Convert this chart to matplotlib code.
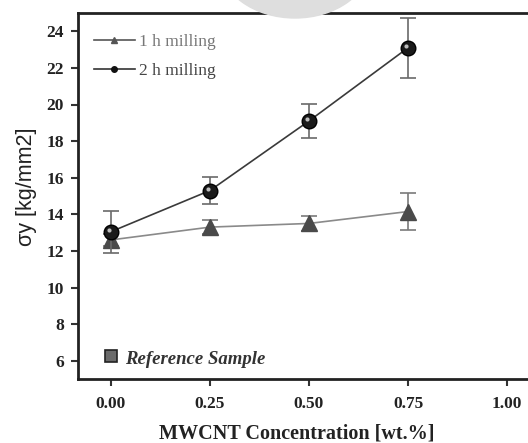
import numpy as np
import matplotlib
matplotlib.use('Agg')
import matplotlib.pyplot as plt
from matplotlib.patches import Ellipse

# MWCNT content [wt.%]
conc = [0.00, 0.25, 0.50, 0.75]

# yield stress, 1 h milling
sig_1h = [12.6, 13.3, 13.5, 14.15]
err_1h = [0.35, 0.4, 0.4, 1.0]

# yield stress, 2 h milling
sig_2h = [13.05, 15.3, 19.1, 23.1]
err_2h = [1.15, 0.75, 0.95, 1.65]

# reference sample (no CNT)
ref_x = [0.0]
ref_y = [6.25]

xticks = [0.00, 0.25, 0.50, 0.75, 1.00]
yticks = [6, 8, 10, 12, 14, 16, 18, 20, 22, 24]

plt.rcParams['font.family'] = ['Liberation Serif', 'DejaVu Serif']

fig = plt.figure(figsize=(5.28, 4.43), dpi=100)

# faint grey watermark blob at the top
fig.patches.append(Ellipse((295 / 528, 1 + 37 / 443), 150 / 528, 110 / 443,
                           transform=fig.transFigure, color='#dedede', zorder=0))

ax = fig.add_axes([78 / 528, 64 / 443, 462 / 528, 366 / 443])
ax.set_facecolor('none')

ax.errorbar(conc, sig_1h, yerr=err_1h, color='#8a8a8a', lw=1.2, ecolor='#7a7a7a',
            elinewidth=1.2, capsize=5.5, capthick=1.2, marker='^', ms=12,
            mfc='#4a4a4a', mec='#4a4a4a', zorder=3)
ax.errorbar(conc, sig_2h, yerr=err_2h, color='#3a3a3a', lw=1.2, ecolor='#6a6a6a',
            elinewidth=1.2, capsize=5.5, capthick=1.2, marker='o', ms=10.5,
            mfc='#1a1a1a', mec='#000000', zorder=4)
# little highlight on the spheres
shift = matplotlib.transforms.ScaledTranslation(-2 / 100, 2 / 100, fig.dpi_scale_trans)
ax.plot(conc, sig_2h, ls='none', marker='o', ms=3, mfc='#bdbdbd', mec='none',
        zorder=5, transform=ax.transData + shift)

ax.plot(ref_x, ref_y, ls='none', marker='s', ms=8, mfc='#6a6a6a', mec='#222222', mew=1.2)
ax.text(0.035, 6.05, 'Reference Sample', fontsize=13.5, style='italic', weight='bold',
        color='#333333', va='center')

# legend handles
h1, = ax.plot([], [], color='#555555', lw=1.2, marker='^', ms=5, mfc='#555555', mec='#555555')
h2, = ax.plot([], [], color='#333333', lw=1.2, marker='o', ms=4, mfc='#111111', mec='#111111')
leg = ax.legend([h1, h2], ['1 h milling', '2 h milling'], loc='upper left', frameon=False,
                fontsize=12.5, handlelength=2.4, handletextpad=0.2, labelspacing=0.75,
                bbox_to_anchor=(0.0, 0.985), borderaxespad=0.5)
leg.get_texts()[0].set_color('#777777')
leg.get_texts()[1].set_color('#444444')

ax.set_xlim(-0.0833, 1.0833)
ax.set_ylim(5, 25)
ax.set_xticks(xticks)
ax.set_xticklabels(['%.2f' % v for v in xticks])
ax.set_yticks(yticks)
for lab in ax.get_xticklabels() + ax.get_yticklabels():
    lab.set_fontweight('bold')
    lab.set_fontsize(12.5)
    lab.set_color('#222222')
ax.tick_params(direction='out', length=5, width=1.5, color='#333333', pad=7)
ax.tick_params(axis='y', pad=5)
for s in ax.spines.values():
    s.set_linewidth(2)
    s.set_color('#222222')

ax.set_xlabel('MWCNT Concentration [wt.%]', fontsize=14.5, weight='bold', color='#222222')
ax.xaxis.set_label_coords((297 - 78) / 462, -0.122)
ax.set_ylabel('σy [kg/mm2]', fontsize=15.5, family=['Liberation Sans', 'DejaVu Sans'],
              color='#222222')
ax.yaxis.set_label_coords(-0.088, 0.525)

fig.savefig('out.png', dpi=100)
